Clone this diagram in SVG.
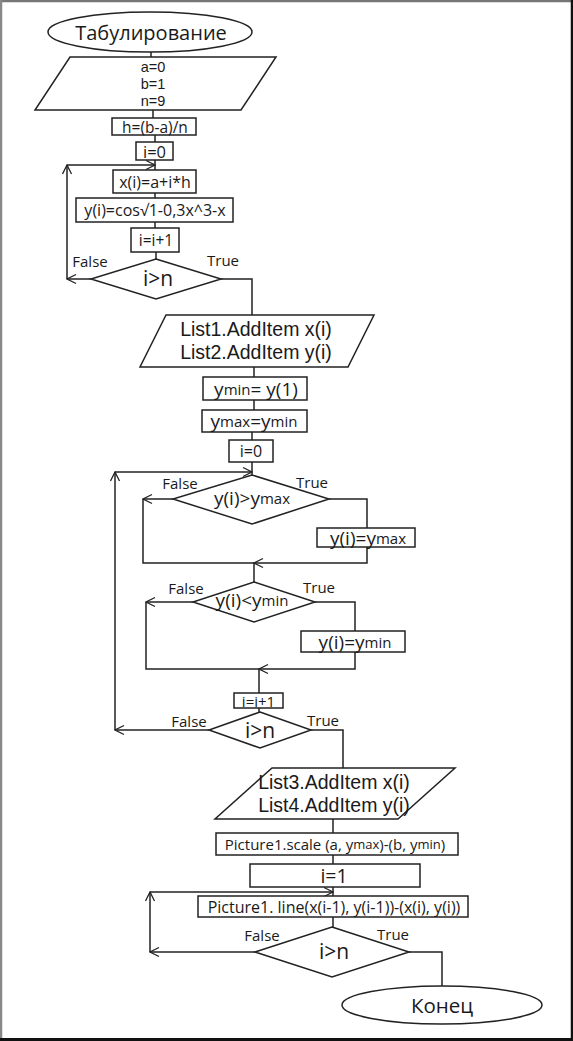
<svg xmlns="http://www.w3.org/2000/svg" width="573" height="1041" viewBox="0 0 573 1041">
<style>
.s{fill:#fff;stroke:#222;stroke-width:1.5}
.c{fill:none;stroke:#222;stroke-width:1.5}
text{font-family:"Open Sans","Liberation Sans",sans-serif;fill:#1a1a1a;text-anchor:middle;dominant-baseline:central}
.ls{font-family:"Liberation Sans",Arial,sans-serif}
.lb{font-size:15px}
.big{font-size:19px}
.sub{font-size:15px}
.in{font-size:21px}
</style>
<defs>
<marker id="ar" markerUnits="userSpaceOnUse" markerWidth="12" markerHeight="12" viewBox="0 0 12 12" refX="11" refY="6" orient="auto">
<path d="M2,1.5 L11,6 L2,10.5" fill="none" stroke="#222" stroke-width="1.3"/>
</marker>
</defs>
<rect x="0" y="0" width="573" height="1041" fill="#fff"/>
<line x1="0" y1="1" x2="573" y2="1" stroke="#777" stroke-width="2.5"/>
<line x1="1" y1="0" x2="1" y2="1041" stroke="#888" stroke-width="2.5"/>
<line x1="572" y1="0" x2="572" y2="1041" stroke="#111" stroke-width="2.5"/>
<line x1="0" y1="1039.5" x2="573" y2="1039.5" stroke="#111" stroke-width="3"/>

<g id="connectors">
<path class="c" d="M151,52 V57"/>
<path class="c" d="M153,110 V118"/>
<path class="c" d="M155,135 V142"/>
<path class="c" d="M155,160 V170"/>
<path class="c" d="M155,193 V198"/>
<path class="c" d="M155,222 V228"/>
<path class="c" d="M156,252 V259"/>
<path class="c" d="M91,279 H67" marker-end="url(#ar)"/>
<path class="c" d="M67,279 V165" marker-end="url(#ar)"/>
<path class="c" d="M67,165 H155" marker-end="url(#ar)"/>
<path class="c" d="M221,279 H252 V315"/>
<path class="c" d="M254,367 V377"/>
<path class="c" d="M254,400 V410"/>
<path class="c" d="M252,432 V440"/>
<path class="c" d="M252,462 V475"/>
<path class="c" d="M173,499 H143" marker-end="url(#ar)"/>
<path class="c" d="M143,499 V563 H254"/>
<path class="c" d="M329,499 H367 V528"/>
<path class="c" d="M367,547 V563 H254" marker-end="url(#ar)"/>
<path class="c" d="M254,563 V582"/>
<path class="c" d="M193,602 H146" marker-end="url(#ar)"/>
<path class="c" d="M146,602 V669 H259"/>
<path class="c" d="M315,602 H355 V631"/>
<path class="c" d="M355,652 V669 H259" marker-end="url(#ar)"/>
<path class="c" d="M259,669 V693"/>
<path class="c" d="M259,708 V712"/>
<path class="c" d="M209,730 H115" marker-end="url(#ar)"/>
<path class="c" d="M115,730 V472" marker-end="url(#ar)"/>
<path class="c" d="M115,472 H252" marker-end="url(#ar)"/>
<path class="c" d="M311,730 H343 V768"/>
<path class="c" d="M333,819 V833"/>
<path class="c" d="M333,855 V864"/>
<path class="c" d="M333,887 V896"/>
<path class="c" d="M333,917 V927"/>
<path class="c" d="M255,952 H150" marker-end="url(#ar)"/>
<path class="c" d="M150,952 V892" marker-end="url(#ar)"/>
<path class="c" d="M150,892 H333" marker-end="url(#ar)"/>
<path class="c" d="M409,952 H442 V986"/>
</g>

<g id="start">
<ellipse class="s" cx="150" cy="32" rx="102" ry="20"/>
<text x="151" y="32" font-size="20">Табулирование</text>
</g>
<g id="input1">
<polygon class="s" points="70,57 276,57 241,110 35,110"/>
<text class="ls" x="153" y="66.5" font-size="14.5">a=0</text>
<text class="ls" x="153" y="83.5" font-size="14.5">b=1</text>
<text class="ls" x="153" y="100.5" font-size="14.5">n=9</text>
</g>
<g id="h">
<rect class="s" x="112" y="118" width="84" height="17"/>
<text x="155" y="126.5" font-size="15.5">h=(b-a)/n</text>
</g>
<g id="i0a">
<rect class="s" x="136" y="142" width="37" height="18"/>
<text x="154.5" y="151" font-size="16.5">i=0</text>
</g>
<g id="xi">
<rect class="s" x="113" y="170" width="83" height="23"/>
<text x="155" y="181.5" font-size="16">x(i)=a+i*h</text>
</g>
<g id="yi">
<rect class="s" x="76" y="198" width="157" height="24"/>
<text x="155" y="210" font-size="16">y(i)=cos√1-0,3x^3-x</text>
</g>
<g id="inc1">
<rect class="s" x="131" y="228" width="48" height="24"/>
<text x="156" y="240" font-size="15.5">i=i+1</text>
</g>
<g id="d1">
<polygon class="s" points="156,259 221,279 156,299 91,279"/>
<text class="in" x="158" y="278">i&gt;n</text>
<text class="lb" x="90" y="261">False</text>
<text class="lb" x="223" y="260">True</text>
</g>
<g id="list12">
<polygon class="s" points="166,315 374,315 348,367 140,367"/>
<text class="ls" x="256" y="329" font-size="19.5">List1.AddItem x(i)</text>
<text class="ls" x="256" y="352" font-size="19.5">List2.AddItem y(i)</text>
</g>
<g id="ymin1">
<rect class="s" x="203" y="377" width="104" height="23"/>
<text x="256" y="388.5" class="big">y<tspan class="sub">min</tspan>= y(1)</text>
</g>
<g id="ymax1">
<rect class="s" x="202" y="410" width="105" height="22"/>
<text x="254" y="421" class="big">y<tspan class="sub">max</tspan>=y<tspan class="sub">min</tspan></text>
</g>
<g id="i0b">
<rect class="s" x="229" y="440" width="44" height="22"/>
<text x="251" y="451" font-size="16">i=0</text>
</g>
<g id="d2">
<polygon class="s" points="252,475 329,499 252,524 173,499"/>
<text x="252" y="498" class="big">y(i)&gt;y<tspan class="sub">max</tspan></text>
<text class="lb" x="180" y="483">False</text>
<text class="lb" x="312" y="482">True</text>
</g>
<g id="setmax">
<rect class="s" x="317" y="528" width="98" height="19"/>
<text x="368" y="537.5" class="big">y(i)=y<tspan class="sub">max</tspan></text>
</g>
<g id="d3">
<polygon class="s" points="254,582 315,602 254,622 193,602"/>
<text x="252" y="600" class="big">y(i)&lt;y<tspan class="sub">min</tspan></text>
<text class="lb" x="186" y="588">False</text>
<text class="lb" x="319" y="587">True</text>
</g>
<g id="setmin">
<rect class="s" x="301" y="631" width="104" height="21"/>
<text x="355" y="641.5" class="big">y(i)=y<tspan class="sub">min</tspan></text>
</g>
<g id="inc2">
<rect class="s" x="234" y="693" width="49" height="15"/>
<text x="258.5" y="700.5" font-size="15">i=i+1</text>
</g>
<g id="d4">
<polygon class="s" points="260,712 311,730 260,748 209,730"/>
<text class="in" x="260" y="730">i&gt;n</text>
<text class="lb" x="189" y="721">False</text>
<text class="lb" x="323" y="720">True</text>
</g>
<g id="list34">
<polygon class="s" points="272,768 455,768 398,819 215,819"/>
<text class="ls" x="334" y="782" font-size="19.5">List3.AddItem x(i)</text>
<text class="ls" x="334" y="805" font-size="19.5">List4.AddItem y(i)</text>
</g>
<g id="scale">
<rect class="s" x="216" y="833" width="242" height="22"/>
<text x="335" y="844" font-size="15">Picture1.scale (a, y<tspan font-size="13">max</tspan>)-(b, y<tspan font-size="13">min</tspan>)</text>
</g>
<g id="i1">
<rect class="s" x="250" y="864" width="170" height="23"/>
<text x="334" y="875.5" font-size="19.5">i=1</text>
</g>
<g id="line">
<rect class="s" x="198" y="896" width="270" height="21"/>
<text x="334" y="906.5" font-size="16">Picture1. line(x(i-1), y(i-1))-(x(i), y(i))</text>
</g>
<g id="d5">
<polygon class="s" points="332,927 409,952 332,977 255,952"/>
<text class="in" x="334" y="951">i&gt;n</text>
<text class="lb" x="262" y="935">False</text>
<text class="lb" x="393" y="934">True</text>
</g>
<g id="end">
<ellipse class="s" cx="442" cy="1005" rx="100" ry="19"/>
<text x="442" y="1005" font-size="20.5">Конец</text>
</g>
</svg>
